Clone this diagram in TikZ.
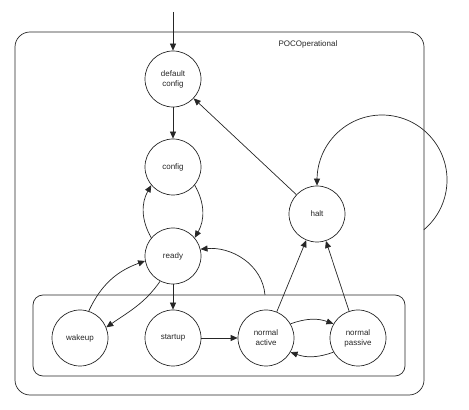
\documentclass[tikz,border=0pt]{standalone}
\usepackage{fontspec}
\setmainfont{Liberation Sans}
\usetikzlibrary{arrows.meta}
\begin{document}
\begin{tikzpicture}[x=1pt,y=1pt,
  line width=0.7pt, color=black!85,
  state/.style={circle, draw, minimum size=56pt, inner sep=0pt, align=center, font=\fontsize{8}{10}\selectfont},
  arr/.style={-{Triangle[length=7pt,width=6pt]}},
  comp/.style={draw, inner sep=0pt}
]
\useasboundingbox (0,0) rectangle (469,410);
% composite states
\node[comp, rounded corners=15pt, minimum width=409pt, minimum height=363pt] (outer) at (219.5,196.5) {};
\node[comp, rounded corners=10pt, minimum width=372pt, minimum height=81pt] (inner) at (219,74.5) {};
\node[font=\fontsize{8}{10}\selectfont] (lbl) at (308,366) {POCOperational};
% states
\node[state] (dc) at (173,331) {default\\config};
\node[state] (cfg) at (173,243) {config};
\node[state] (rdy) at (173,154) {ready};
\node[state] (halt) at (317,196) {halt};
\node[state] (wk) at (80,72) {wakeup};
\node[state] (st) at (173,72) {startup};
\node[state] (na) at (266,72) {normal\\active};
\node[state] (np) at (358,72) {normal\\passive};
\coordinate (init) at (173,398);
\coordinate (ib) at (265,115);
\coordinate (oc) at (423.8,180.2);
% transitions
\draw[arr] (init) -- (dc);
\draw[arr] (dc) -- (cfg);
\draw[arr] (halt) -- (dc);
\draw[arr] (rdy.140) to[bend left=30] (cfg.220);
\draw[arr] (cfg.-40) to[bend left=30] (rdy.40);
\draw[arr] (rdy) -- (st);
\draw[arr] (wk.72) to[out=65,in=200] (rdy.190);
\draw[arr] (rdy.243) to[out=235,in=35] (wk.22);
\draw[arr] (ib) to[out=95,in=5] (rdy.14);
\draw[arr] (st) -- (na);
\draw[arr] (na) -- (halt);
\draw[arr] (np) -- (halt);
\draw[arr] (na.30) to[bend left=20] (np.150);
\draw[arr] (np.-150) to[bend left=20] (na.-30);
\draw[arr] (oc) arc[start angle=-50, end angle=180, radius=65pt] -- (halt.north);
\end{tikzpicture}
\end{document}
